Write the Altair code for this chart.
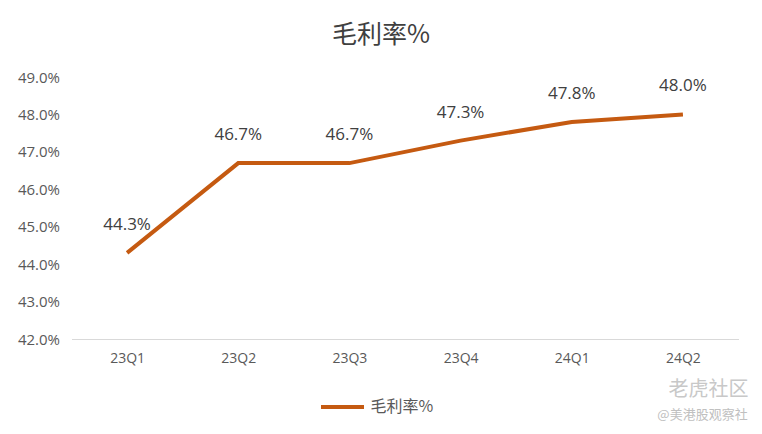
import altair as alt
import pandas as pd

quarters = ["23Q1", "23Q2", "23Q3", "23Q4", "24Q1", "24Q2"]
gross_margin = [0.443, 0.467, 0.467, 0.473, 0.478, 0.480]
series_name = "毛利率%"
y_ticks = [0.42, 0.43, 0.44, 0.45, 0.46, 0.47, 0.48, 0.49]

df = pd.DataFrame({"季度": quarters, "值": gross_margin, "系列": [series_name] * len(quarters)})

FONT = "Open Sans"
LINE = "#C55A11"

base = alt.Chart(df).encode(
    x=alt.X("季度:N", sort=quarters, title=None,
            scale=alt.Scale(paddingInner=0, paddingOuter=0.5),
            axis=alt.Axis(labelAngle=0, labelFontSize=14, labelColor="#595959", labelFont=FONT,
                          domainColor="#D9D9D9", domainWidth=1, ticks=False, labelPadding=12)),
    y=alt.Y("值:Q", title=None,
            scale=alt.Scale(domain=[0.42, 0.49], nice=False, zero=False),
            axis=alt.Axis(values=y_ticks, format=".1%", labelFontSize=15, labelColor="#595959",
                          labelFont=FONT, domain=False, ticks=False, grid=False, labelPadding=12,
                          labelOverlap=False)),
)

line = base.mark_line(strokeWidth=4, strokeCap="butt", strokeJoin="miter").encode(
    color=alt.Color("系列:N", scale=alt.Scale(range=[LINE]),
                    legend=alt.Legend(title=None, orient="none", legendX=247, legendY=306,
                                      symbolType="stroke", symbolSize=1850, symbolStrokeWidth=4,
                                      labelFontSize=16, labelColor="#595959",
                                      labelFont="Noto Sans CJK SC", labelOffset=4)),
)

labels = base.mark_text(dy=-28, fontSize=17, color="#404040", font=FONT).encode(
    text=alt.Text("值:Q", format=".1%"),
)

wm1 = alt.Chart(pd.DataFrame({"t": ["老虎社区"]})).mark_text(
    fontSize=20, color="#C8C8C8", font="Noto Sans CJK SC", align="center", baseline="middle"
).encode(x=alt.value(637), y=alt.value(313), text="t:N")
wm2 = alt.Chart(pd.DataFrame({"t": ["@美港股观察社"]})).mark_text(
    fontSize=13, color="#C0C0C0", font="Noto Sans CJK SC", align="center", baseline="middle"
).encode(x=alt.value(631), y=alt.value(338), text="t:N")

chart = alt.layer(line, labels, wm1, wm2).properties(
    width=667, height=262,
    padding={"left": 63.5, "top": 69, "right": 15, "bottom": 87},
    autosize=alt.AutoSizeParams(type="none"),
    title=alt.Title(series_name, fontSize=25, font="Noto Sans CJK SC", fontWeight="normal",
                    color="#404040", anchor="middle", dx=-24, offset=22),
).configure(background="white", view=alt.ViewConfig(stroke=None))

chart.save("out.html", embed_options={"renderer": "svg", "actions": False})
